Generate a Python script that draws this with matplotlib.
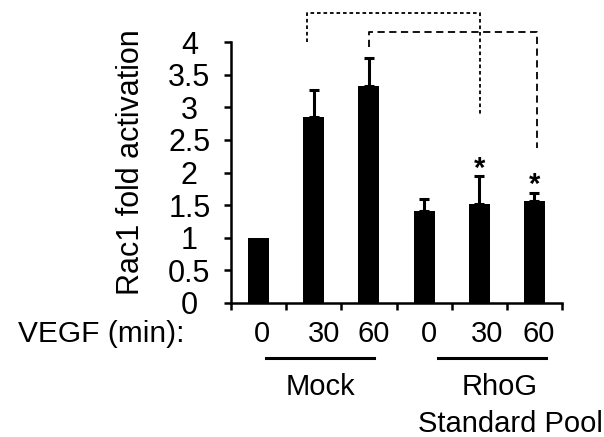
import matplotlib
matplotlib.use('Agg')
import matplotlib.pyplot as plt
import matplotlib.transforms as mtransforms
import numpy as np

plt.rcParams['font.family'] = ['Liberation Sans', 'DejaVu Sans']

# data
vegf_min = ['0', '30', '60', '0', '30', '60']
rac1_fold = [1.0, 2.85, 3.33, 1.41, 1.51, 1.57]
rac1_err = [0.0, 0.41, 0.43, 0.19, 0.44, 0.12]
star_bars = [4, 5]
star_y = [2.16, 1.92]
group_names = ['Mock', 'RhoG']
group_span = [(0.136, 2.1), (3.245, 5.209)]
group_center = [1.118, 4.373]

# significance brackets: (left x, right x, top y, left end y, right end y, dash pattern)
brackets = [
    (0.88, 4.01, 4.44, 4.0, 2.86, (0, (2, 1.6))),
    (2.01, 5.04, 4.15, 3.93, 2.37, (0, (4, 2.5))),
]

W, H = 604, 437
fig = plt.figure(figsize=(W / 100, H / 100), dpi=100)
ax = fig.add_axes([231 / W, 1 - 303 / H, 331 / W, 261 / H])


def fy(py):
    # pixel row from the top -> figure fraction
    return 1 - py / H


x = np.arange(len(rac1_fold))
ax.bar(x, rac1_fold, width=0.38, color='black', zorder=2)
ax.errorbar(x[1:], rac1_fold[1:], yerr=[np.zeros(5), rac1_err[1:]], fmt='none',
            ecolor='black', elinewidth=2.2, capsize=3.6, capthick=2.2, zorder=1)

for b, sy in zip(star_bars, star_y):
    ax.annotate('*', (b, sy), xytext=(0, -11), textcoords='offset points',
                ha='center', va='baseline', fontsize=21, fontweight='bold')

for x0, x1, ytop, y0, y1, ls in brackets:
    ax.plot([x0, x0, x1, x1], [y0, ytop, ytop, y1], color='black', lw=1.3,
            linestyle=ls, clip_on=False)

ax.set_xlim(-0.5, 5.5)
ax.set_ylim(0, 4)
ax.set_yticks(np.arange(0, 4.01, 0.5))
ax.set_yticklabels(['0', '0.5', '1', '1.5', '2', '2.5', '3', '3.5', '4'])
ax.set_xticks(np.arange(-0.5, 5.6, 1))
ax.set_xticklabels([])
ax.tick_params(axis='both', direction='out', length=5, width=1.8)
ax.tick_params(axis='y', labelsize=22, pad=25)
for lab in ax.get_yticklabels():
    lab.set_horizontalalignment('center')
    lab.set_verticalalignment('center_baseline')
for s in ['top', 'right']:
    ax.spines[s].set_visible(False)
for s in ['left', 'bottom']:
    ax.spines[s].set_linewidth(1.8)

fig.text(131 / W, fy(162.5), 'Rac1 fold activation', rotation=90,
         ha='center', va='center', fontsize=22)

trans = mtransforms.blended_transform_factory(ax.transData, fig.transFigure)
label_dx = [0.064, 0.19, 0.09, 0.08, 0.14, 0.08]
for i, lab in enumerate(vegf_min):
    ax.text(i + label_dx[i], fy(342), lab, transform=trans, ha='center',
            va='baseline', fontsize=21)
fig.text(185 / W, fy(342), 'VEGF (min):', ha='right', va='baseline', fontsize=21.5)

for (g0, g1), gc, name in zip(group_span, group_center, group_names):
    ax.plot([g0, g1], [fy(358), fy(358)], transform=trans, color='black', lw=2.2,
            clip_on=False)
    ax.text(gc, fy(395), name, transform=trans, ha='center', va='baseline', fontsize=21)
fig.text(510 / W, fy(432), 'Standard Pool', ha='center', va='baseline', fontsize=21)

fig.savefig('out.png', dpi=100)
